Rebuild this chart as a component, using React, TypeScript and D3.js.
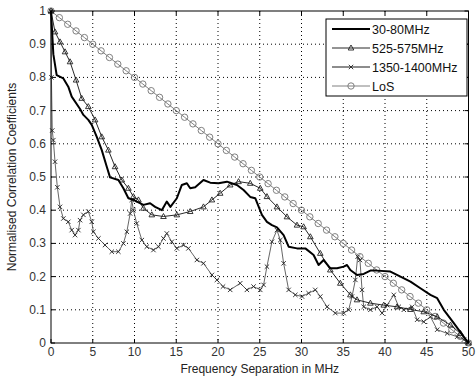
import React from 'react';
import * as d3 from 'd3';

// frequency separation (MHz), correlation coefficient
const band30x = [0, 0.28, 0.68, 1.48, 2.07, 2.48, 3.48, 3.88, 4.47, 4.88, 5.48, 6.08, 6.68, 7.07, 8.07, 8.67, 9.27, 9.87, 11.07, 11.87, 12.47, 13.27, 13.87, 14.3, 15.07, 15.67, 16.27, 16.67, 17.27, 18.26, 19.07, 20.06, 21.07, 22.27, 23.06, 23.86, 24.46, 25.26, 25.86, 26.46, 27.06, 27.86, 28.46, 29.46, 30.46, 31.45, 32.05, 32.65, 33.45, 34.26, 35.05, 35.45, 35.85, 36.65, 37.45, 38.25, 39.05, 40.65, 41.85, 43.05, 44.24, 45.44, 46.25, 47.04, 48.24, 49.4, 50];
const band30y = [1, 0.87, 0.807, 0.797, 0.772, 0.742, 0.705, 0.687, 0.672, 0.657, 0.621, 0.581, 0.531, 0.499, 0.491, 0.466, 0.436, 0.431, 0.416, 0.421, 0.41, 0.4, 0.426, 0.41, 0.436, 0.476, 0.481, 0.466, 0.469, 0.491, 0.483, 0.481, 0.486, 0.476, 0.461, 0.44, 0.436, 0.386, 0.365, 0.355, 0.348, 0.325, 0.29, 0.285, 0.285, 0.265, 0.235, 0.25, 0.225, 0.225, 0.23, 0.235, 0.22, 0.205, 0.208, 0.218, 0.218, 0.215, 0.2, 0.185, 0.165, 0.145, 0.135, 0.1, 0.06, 0.02, 0];

const band525x = [0, 0.48, 1.08, 1.68, 2.28, 3.0, 3.68, 4.47, 5.28, 6.08, 6.87, 7.67, 8.48, 9.27, 9.87, 10.47, 11.07, 12.07, 13.47, 15.07, 16.67, 18.26, 19.27, 20.26, 21.46, 22.46, 23.86, 25.06, 25.86, 27.06, 28.26, 29.46, 30.25, 31.06, 32.25, 33.45, 34.65, 35.85, 36.65, 38.25, 39.85, 41.45, 43.05, 44.64, 46.25, 47.84, 49.04, 50];
const band525y = [1, 0.937, 0.907, 0.877, 0.847, 0.792, 0.737, 0.712, 0.672, 0.621, 0.581, 0.531, 0.491, 0.466, 0.441, 0.431, 0.406, 0.386, 0.381, 0.386, 0.396, 0.41, 0.431, 0.451, 0.476, 0.486, 0.481, 0.466, 0.441, 0.41, 0.38, 0.355, 0.35, 0.32, 0.27, 0.22, 0.18, 0.145, 0.13, 0.12, 0.114, 0.109, 0.101, 0.094, 0.079, 0.054, 0.029, 0];

const band1350x = [0, 0.05, 0.15, 0.28, 0.48, 0.76, 1.08, 1.48, 2.07, 2.48, 2.88, 3.28, 3.48, 3.88, 4.47, 4.88, 5.08, 5.68, 6.47, 7.28, 8.07, 8.67, 9.08, 9.48, 9.67, 9.87, 10.27, 10.88, 11.47, 12.27, 12.87, 13.47, 13.87, 14.47, 15.07, 15.87, 16.46, 17.47, 18.26, 19.27, 19.87, 20.6, 21.46, 22.66, 23.46, 24.26, 25.06, 25.46, 25.86, 26.46, 27.06, 27.46, 27.86, 28.46, 29.26, 30.06, 30.85, 31.65, 32.25, 33.06, 34.05, 35.05, 35.65, 36.05, 36.45, 36.73, 37.0, 37.25, 37.45, 38.25, 39.05, 39.65, 40.25, 41.05, 41.65, 42.25, 43.25, 43.85, 44.64, 45.44, 46.25, 47.45, 48.65, 49.45, 50];
const band1350y = [1, 0.8, 0.64, 0.611, 0.546, 0.469, 0.41, 0.375, 0.365, 0.34, 0.325, 0.34, 0.37, 0.386, 0.396, 0.365, 0.335, 0.315, 0.295, 0.275, 0.275, 0.3, 0.335, 0.39, 0.431, 0.4, 0.36, 0.31, 0.29, 0.28, 0.29, 0.315, 0.33, 0.305, 0.285, 0.295, 0.285, 0.25, 0.24, 0.205, 0.19, 0.17, 0.16, 0.18, 0.16, 0.17, 0.16, 0.175, 0.23, 0.305, 0.34, 0.31, 0.24, 0.16, 0.145, 0.14, 0.15, 0.16, 0.14, 0.109, 0.09, 0.09, 0.1, 0.14, 0.19, 0.26, 0.25, 0.16, 0.109, 0.1, 0.109, 0.09, 0.114, 0.145, 0.109, 0.1, 0.109, 0.07, 0.064, 0.079, 0.04, 0.029, 0.019, 0.01, 0];

const losX = [0, 1, 2, 3, 4, 5, 6, 7, 8, 9, 10, 11, 12, 13, 14, 15, 16, 17, 18, 19, 20, 21, 22, 23, 24, 25, 26, 27, 28, 29, 30, 31, 32, 33, 34, 35, 36, 37, 38, 39, 40, 41, 42, 43, 44, 45, 46, 47, 48, 49, 50];
const losY = [1, 0.98, 0.96, 0.94, 0.92, 0.9, 0.88, 0.86, 0.84, 0.82, 0.8, 0.78, 0.76, 0.74, 0.72, 0.7, 0.68, 0.66, 0.64, 0.62, 0.6, 0.58, 0.56, 0.54, 0.52, 0.5, 0.48, 0.46, 0.44, 0.42, 0.4, 0.38, 0.36, 0.34, 0.32, 0.3, 0.28, 0.26, 0.24, 0.22, 0.2, 0.18, 0.16, 0.14, 0.12, 0.1, 0.08, 0.06, 0.04, 0.02, 0];

const xTicks = [0, 5, 10, 15, 20, 25, 30, 35, 40, 45, 50];
const yTicks = [0, 0.1, 0.2, 0.3, 0.4, 0.5, 0.6, 0.7, 0.8, 0.9, 1];
const seriesNames = ['30-80MHz', '525-575MHz', '1350-1400MHz', 'LoS'];

const W = 476, H = 379;
const L = 51, R = 468.5, T = 11, B = 343;
const font = 'Liberation Sans, Arial, sans-serif';

const zip = (xs: number[], ys: number[]) => xs.map((x, i) => [x, ys[i]] as [number, number]);

const Marker = ({ kind, x, y, color }: any) => {
  if (kind === 'tri') {
    return <path d={`M${x},${y - 3}L${x + 2.8},${y + 2}L${x - 2.8},${y + 2}Z`} fill="none" stroke={color} strokeWidth={0.9} />;
  }
  if (kind === 'x') {
    return <path d={`M${x - 2.2},${y - 2.2}L${x + 2.2},${y + 2.2}M${x - 2.2},${y + 2.2}L${x + 2.2},${y - 2.2}`} stroke={color} strokeWidth={0.9} />;
  }
  if (kind === 'o') {
    return <circle cx={x} cy={y} r={3.2} fill="none" stroke={color} strokeWidth={1} />;
  }
  return null;
};

export default function App() {
  const x = d3.scaleLinear().domain([0, 50]).range([L, R]);
  const y = d3.scaleLinear().domain([0, 1]).range([B, T]);
  const line = d3.line<[number, number]>().x(d => x(d[0])).y(d => y(d[1]));

  const series = [
    { name: seriesNames[0], data: zip(band30x, band30y), color: '#000', width: 2, marker: null },
    { name: seriesNames[1], data: zip(band525x, band525y), color: '#111', width: 0.9, marker: 'tri' },
    { name: seriesNames[2], data: zip(band1350x, band1350y), color: '#555', width: 0.9, marker: 'x' },
    { name: seriesNames[3], data: zip(losX, losY), color: '#808080', width: 1, marker: 'o' },
  ];
  const drawOrder = [3, 2, 1, 0];

  return (
    <svg width={W} height={H} style={{ position: 'absolute', left: 0, top: 0, background: '#fff' }} fontFamily={font}>
      <rect x={0} y={0} width={W} height={H} fill="#fff" />
      {/* grid */}
      {xTicks.slice(1, -1).map(t => (
        <line key={'gx' + t} x1={x(t)} x2={x(t)} y1={T} y2={B} stroke="#000" strokeWidth={1} strokeDasharray="1,3" />
      ))}
      {yTicks.slice(1, -1).map(t => (
        <line key={'gy' + t} x1={L} x2={R} y1={y(t)} y2={y(t)} stroke="#000" strokeWidth={1} strokeDasharray="1,3" />
      ))}
      {/* ticks on all sides */}
      {xTicks.map(t => (
        <g key={'tx' + t}>
          <line x1={x(t)} x2={x(t)} y1={B} y2={B - 4} stroke="#000" />
          <line x1={x(t)} x2={x(t)} y1={T} y2={T + 4} stroke="#000" />
          <text x={x(t)} y={356} textAnchor="middle" fontSize={12} fill="#333">{t}</text>
        </g>
      ))}
      {yTicks.map(t => (
        <g key={'ty' + t}>
          <line x1={L} x2={L + 4} y1={y(t)} y2={y(t)} stroke="#000" />
          <line x1={R} x2={R - 4} y1={y(t)} y2={y(t)} stroke="#000" />
          <text x={46} y={y(t) + 4} textAnchor="end" fontSize={12} fill="#333">{d3.format('~g')(t)}</text>
        </g>
      ))}
      {/* series */}
      {drawOrder.map(i => {
        const s = series[i];
        return (
          <g key={s.name}>
            <path d={line(s.data) || ''} fill="none" stroke={s.color} strokeWidth={s.width} strokeLinejoin="round" />
            {s.marker && s.data.map((d, j) => (
              <Marker key={j} kind={s.marker} x={x(d[0])} y={y(d[1])} color={s.marker === 'o' ? '#808080' : '#222'} />
            ))}
          </g>
        );
      })}
      {/* axes box */}
      <rect x={L} y={T} width={R - L} height={B - T} fill="none" stroke="#000" strokeWidth={1} />
      {/* legend */}
      <g>
        <rect x={326} y={19} width={141} height={77} fill="#fff" stroke="#000" strokeWidth={1} />
        {series.map((s, i) => {
          const ly = 29 + i * 19;
          return (
            <g key={'lg' + s.name}>
              <line x1={332} x2={370} y1={ly} y2={ly} stroke={s.marker === 'x' ? '#000' : s.color} strokeWidth={s.width} />
              {s.marker && <Marker kind={s.marker} x={351} y={ly} color={s.marker === 'o' ? '#808080' : '#222'} />}
              <text x={372} y={ly + 4.5} fontSize={12.5} fill="#111">{s.name}</text>
            </g>
          );
        })}
      </g>
      {/* axis labels */}
      <text x={(L + R) / 2} y={373} textAnchor="middle" fontSize={12} fill="#222">Frequency Separation in MHz</text>
      <text transform={`translate(16,${(T + B) / 2}) rotate(-90)`} textAnchor="middle" fontSize={12} fill="#222">Normalised Correlation Coefficients</text>
    </svg>
  );
}
